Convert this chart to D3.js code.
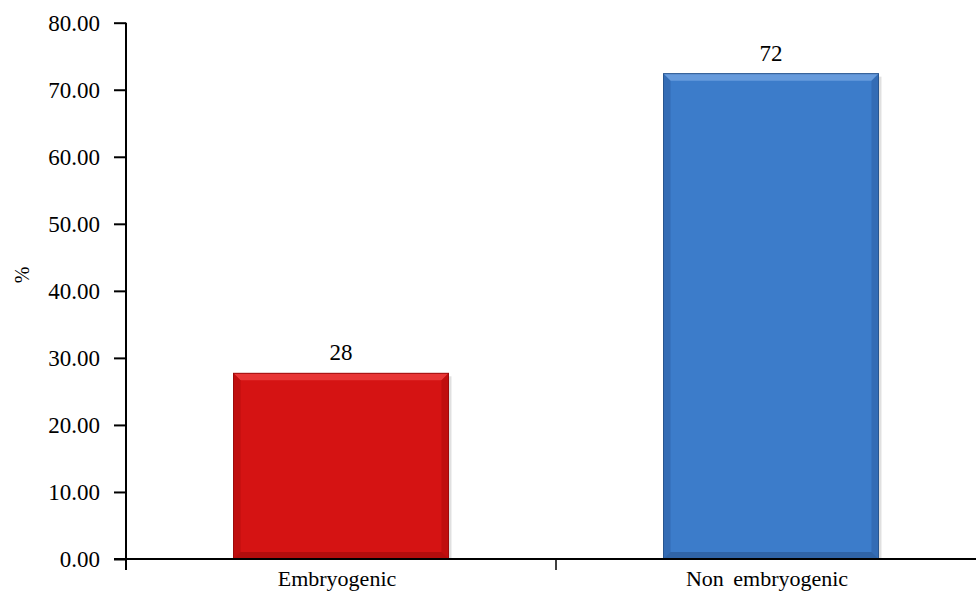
<!DOCTYPE html>
<html>
<head>
<meta charset="utf-8">
<script src="https://cdn.jsdelivr.net/npm/d3@7"></script>
<style>
  body { margin: 0; background: #fff; }
  svg { display: block; font-family: "Liberation Serif", "Times New Roman", serif; }
</style>
</head>
<body>
<svg id="chart" width="976" height="596"></svg>
<script>

// chart values
var categories = ["Embryogenic", "Non embryogenic"];
var values = [27.7, 72.4];
var valueLabels = ["28", "72"];
var yTicks = [0, 10, 20, 30, 40, 50, 60, 70, 80];

// bar colours: main face, top bevel, side bevel, bottom bevel
var barColours = [
	{ face: "#d51313", top: "#ea3a3a", side: "#b30c0c", bottom: "#9c0a0a" },
	{ face: "#3c7cca", top: "#6b9fde", side: "#2e63a6", bottom: "#28558f" }
];

var svg = d3.select("#chart");

var x = d3.scaleBand()
			.domain(categories)
			.range([126, 986])
			.paddingInner(0.5)
			.paddingOuter(0.25);

var xCat = d3.scaleBand()
			.domain(categories)
			.range([126, 986]);

var y = d3.scaleLinear()
			.domain([0, 80])
			.range([559, 22.7]);


// bars with a bevelled look
var bevel = 7;

var bars = svg.append("g")
				.selectAll("g")
				.data(values)
				.enter().append("g");

bars.append("rect")
	.attr("x", function(d, i) { return x(categories[i]) + 3; })
	.attr("y", function(d) { return y(d) + 3; })
	.attr("width", x.bandwidth())
	.attr("height", function(d) { return y(0) - y(d) - 3; })
	.style("fill", "#000")
	.style("opacity", 0.12);

bars.append("rect")
	.attr("x", function(d, i) { return x(categories[i]); })
	.attr("y", function(d) { return y(d); })
	.attr("width", x.bandwidth())
	.attr("height", function(d) { return y(0) - y(d); })
	.style("fill", function(d, i) { return barColours[i].face; });

function bevelPath(d, i, side) {
	var x0 = x(categories[i]), x1 = x0 + x.bandwidth();
	var y0 = y(d), y1 = y(0);
	var b = bevel;
	var pts;
	if (side == "top") pts = [[x0, y0], [x1, y0], [x1 - b, y0 + b], [x0 + b, y0 + b]];
	if (side == "left") pts = [[x0, y0], [x0 + b, y0 + b], [x0 + b, y1 - b], [x0, y1]];
	if (side == "right") pts = [[x1, y0], [x1, y1], [x1 - b, y1 - b], [x1 - b, y0 + b]];
	if (side == "bottom") pts = [[x0, y1], [x0 + b, y1 - b], [x1 - b, y1 - b], [x1, y1]];
	return d3.line()(pts) + "Z";
}

["top", "left", "right", "bottom"].forEach(function(side) {
	bars.append("path")
		.attr("d", function(d, i) { return bevelPath(d, i, side); })
		.style("fill", function(d, i) {
			if (side == "top") return barColours[i].top;
			if (side == "bottom") return barColours[i].bottom;
			return barColours[i].side;
		})
		.style("opacity", side == "top" ? 0.9 : 0.6);
});

bars.append("rect")
	.attr("x", function(d, i) { return x(categories[i]); })
	.attr("y", function(d) { return y(d); })
	.attr("width", x.bandwidth())
	.attr("height", function(d) { return y(0) - y(d); })
	.style("fill", "none")
	.style("stroke", function(d, i) { return barColours[i].bottom; })
	.style("stroke-width", 1);

// value labels
bars.append("text")
	.attr("x", function(d, i) { return x(categories[i]) + x.bandwidth() / 2; })
	.attr("y", function(d) { return y(d) - 13; })
	.attr("text-anchor", "middle")
	.style("font-size", "23px")
	.style("fill", "#000")
	.text(function(d, i) { return valueLabels[i]; });


// y axis
var yAxis = svg.append("g")
				.attr("transform", "translate(126,0)")
				.call(d3.axisLeft(y)
						.tickValues(yTicks)
						.tickFormat(d3.format(".2f"))
						.tickSize(12)
						.tickPadding(14)
						.tickSizeOuter(0));

yAxis.select(".domain").remove();
yAxis.selectAll("line").style("stroke", "#000").style("stroke-width", 2);
yAxis.selectAll("text")
	.style("font-family", "Liberation Serif")
	.style("font-size", "23px")
	.style("fill", "#000");

svg.append("line")
	.attr("x1", 126).attr("x2", 126)
	.attr("y1", y(80)).attr("y2", 570)
	.style("stroke", "#000")
	.style("stroke-width", 2);


// x axis
svg.append("line")
	.attr("x1", 114).attr("x2", 986)
	.attr("y1", y(0)).attr("y2", y(0))
	.style("stroke", "#000")
	.style("stroke-width", 2);

svg.append("g")
	.selectAll("line")
	.data(categories.slice(1))
	.enter().append("line")
	.attr("x1", function(d) { return xCat(d); })
	.attr("x2", function(d) { return xCat(d); })
	.attr("y1", y(0))
	.attr("y2", y(0) + 11)
	.style("stroke", "#000")
	.style("stroke-width", 1.5);

svg.append("g")
	.selectAll("text")
	.data(categories)
	.enter().append("text")
	.attr("x", function(d) { return x(d) + x.bandwidth() / 2 - 4; })
	.attr("y", 586)
	.attr("text-anchor", "middle")
	.style("font-size", "22px")
	.style("word-spacing", "4px")
	.style("fill", "#000")
	.text(function(d) { return d; });

// y axis title
svg.append("text")
	.attr("transform", "translate(29,275) rotate(-90)")
	.attr("text-anchor", "middle")
	.style("font-size", "20px")
	.style("fill", "#000")
	.text("%");

</script>
</body>
</html>
